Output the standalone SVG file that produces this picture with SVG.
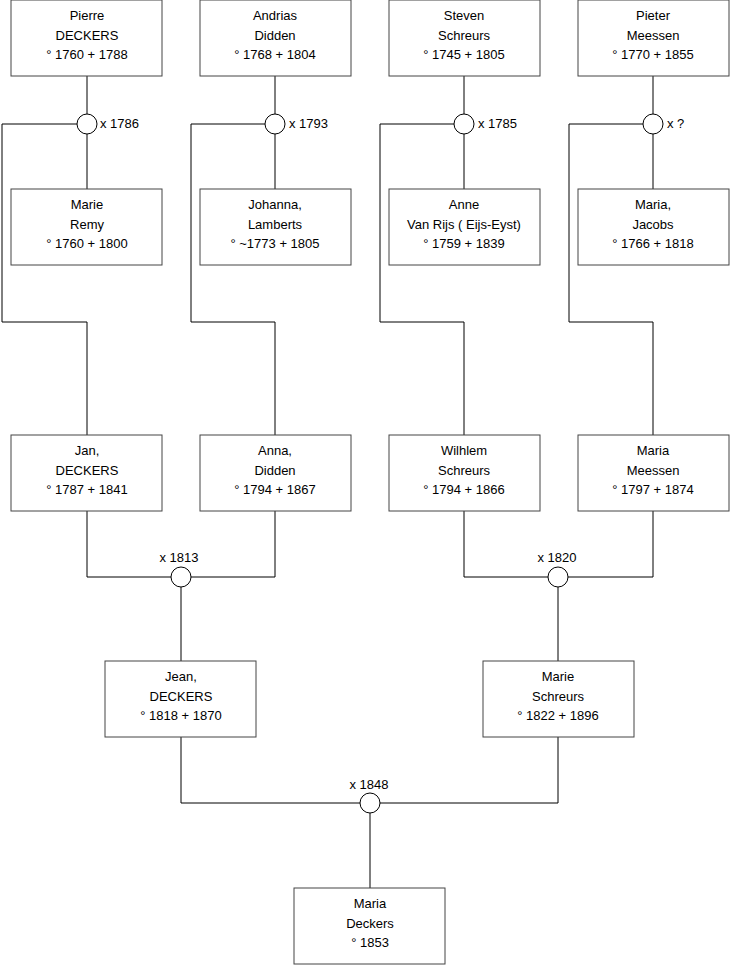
<svg xmlns="http://www.w3.org/2000/svg" width="740" height="975" viewBox="0 0 740 975">
<style>
.box{fill:#fff;stroke:#444;stroke-width:1}
.t{font-family:"Liberation Sans",Arial,sans-serif;font-size:13px;fill:#000;text-anchor:middle}
.l{font-family:"Liberation Sans",Arial,sans-serif;font-size:13px;fill:#000}
.c{fill:none;stroke:#000;stroke-width:1}
.m{fill:#fff;stroke:#000;stroke-width:1}
</style>
<rect width="740" height="975" fill="#fff"/>
<g id="connectors">
<!-- column 1 -->
<path class="c" d="M87 76V114M87 134V189M77 124H2V322H87V435"/>
<path class="c" d="M275 76V114M275 134V189M265 124H191V322H275V435"/>
<path class="c" d="M464 76V114M464 134V189M454 124H380V322H464V435"/>
<path class="c" d="M653 76V114M653 134V189M643 124H569V322H653V435"/>
<path class="c" d="M87 511V577H171M191 577H275V511M181 587V661"/>
<path class="c" d="M464 511V577H548M568 577H653V511M558 587V661"/>
<path class="c" d="M181 737V803H360M380 803H558V737M370 813V888"/>
</g>
<g id="marriages">
<circle class="m" cx="87" cy="124" r="10"/>
<circle class="m" cx="275" cy="124" r="10"/>
<circle class="m" cx="464" cy="124" r="10"/>
<circle class="m" cx="653" cy="124" r="10"/>
<circle class="m" cx="181" cy="577" r="10"/>
<circle class="m" cx="558" cy="577" r="10"/>
<circle class="m" cx="370" cy="803" r="10"/>
<text class="l" x="100" y="128">x 1786</text>
<text class="l" x="289" y="128">x 1793</text>
<text class="l" x="478" y="128">x 1785</text>
<text class="l" x="667" y="128">x ?</text>
<text class="t" x="179" y="562">x 1813</text>
<text class="t" x="557" y="562">x 1820</text>
<text class="t" x="369" y="789">x 1848</text>
</g>
<g id="pierre"><rect class="box" x="11" y="0" width="151" height="76"/><text class="t" x="87" y="20">Pierre<tspan x="87" y="40">DECKERS</tspan><tspan x="87" y="59">° 1760 + 1788</tspan></text></g>
<g id="andrias"><rect class="box" x="200" y="0" width="151" height="76"/><text class="t" x="275" y="20">Andrias<tspan x="275" y="40">Didden</tspan><tspan x="275" y="59">° 1768 + 1804</tspan></text></g>
<g id="steven"><rect class="box" x="389" y="0" width="151" height="76"/><text class="t" x="464" y="20">Steven<tspan x="464" y="40">Schreurs</tspan><tspan x="464" y="59">° 1745 + 1805</tspan></text></g>
<g id="pieter"><rect class="box" x="578" y="0" width="151" height="76"/><text class="t" x="653" y="20">Pieter<tspan x="653" y="40">Meessen</tspan><tspan x="653" y="59">° 1770 + 1855</tspan></text></g>
<g id="marie-remy"><rect class="box" x="11" y="189" width="151" height="76"/><text class="t" x="87" y="209">Marie<tspan x="87" y="229">Remy</tspan><tspan x="87" y="248">° 1760 + 1800</tspan></text></g>
<g id="johanna"><rect class="box" x="200" y="189" width="151" height="76"/><text class="t" x="275" y="209">Johanna,<tspan x="275" y="229">Lamberts</tspan><tspan x="275" y="248">° ~1773 + 1805</tspan></text></g>
<g id="anne"><rect class="box" x="389" y="189" width="151" height="76"/><text class="t" x="464" y="209">Anne<tspan x="464" y="229">Van Rijs ( Eijs-Eyst)</tspan><tspan x="464" y="248">° 1759 + 1839</tspan></text></g>
<g id="maria-jacobs"><rect class="box" x="578" y="189" width="151" height="76"/><text class="t" x="653" y="209">Maria,<tspan x="653" y="229">Jacobs</tspan><tspan x="653" y="248">° 1766 + 1818</tspan></text></g>
<g id="jan"><rect class="box" x="11" y="435" width="151" height="76"/><text class="t" x="87" y="455">Jan,<tspan x="87" y="475">DECKERS</tspan><tspan x="87" y="494">° 1787 + 1841</tspan></text></g>
<g id="anna"><rect class="box" x="200" y="435" width="151" height="76"/><text class="t" x="275" y="455">Anna,<tspan x="275" y="475">Didden</tspan><tspan x="275" y="494">° 1794 + 1867</tspan></text></g>
<g id="wilhlem"><rect class="box" x="389" y="435" width="151" height="76"/><text class="t" x="464" y="455">Wilhlem<tspan x="464" y="475">Schreurs</tspan><tspan x="464" y="494">° 1794 + 1866</tspan></text></g>
<g id="maria-meessen"><rect class="box" x="578" y="435" width="151" height="76"/><text class="t" x="653" y="455">Maria<tspan x="653" y="475">Meessen</tspan><tspan x="653" y="494">° 1797 + 1874</tspan></text></g>
<g id="jean"><rect class="box" x="105" y="661" width="151" height="76"/><text class="t" x="181" y="681">Jean,<tspan x="181" y="701">DECKERS</tspan><tspan x="181" y="720">° 1818 + 1870</tspan></text></g>
<g id="marie-schreurs"><rect class="box" x="483" y="661" width="151" height="76"/><text class="t" x="558" y="681">Marie<tspan x="558" y="701">Schreurs</tspan><tspan x="558" y="720">° 1822 + 1896</tspan></text></g>
<g id="maria-deckers"><rect class="box" x="294" y="888" width="151" height="76"/><text class="t" x="370" y="908">Maria<tspan x="370" y="928">Deckers</tspan><tspan x="370" y="947">° 1853</tspan></text></g>
</svg>
